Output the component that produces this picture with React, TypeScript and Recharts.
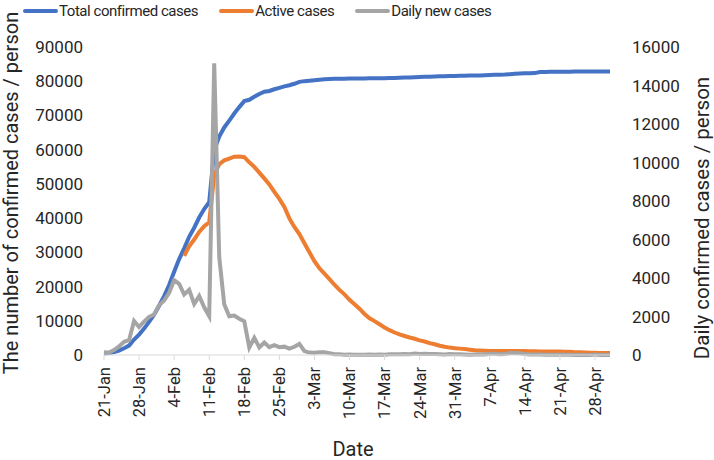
import { Legend, Line, LineChart, XAxis, YAxis } from "recharts";

// Categories: daily from 21-Jan to 1-May
const monthSpans: [string, number, number][] = [
  ["Jan", 21, 31],
  ["Feb", 1, 29],
  ["Mar", 1, 31],
  ["Apr", 1, 30],
  ["May", 1, 1],
];
const dates = monthSpans.flatMap(([m, from, to]) =>
  Array.from({ length: to - from + 1 }, (_, i) => `${from + i}-${m}`)
);

// Total confirmed cases (left axis)
const totalCases = [
  440, 571, 830, 1287, 1975, 2744, 4515, 5974, 7711, 9692, 11791,
  14380, 17205, 20438, 24324, 28018, 31161, 34546, 37198, 40171, 42638, 44653, 59804, 63851, 66492,
  68500, 70548, 72436, 74185, 74576, 75465, 76288, 76936, 77150, 77658, 78064, 78497, 78824, 79251, 79824,
  80026, 80151, 80270, 80409, 80552, 80651, 80695, 80735, 80754, 80778, 80793, 80813, 80824, 80844, 80860,
  80881, 80894, 80928, 80967, 81008, 81054, 81093, 81171, 81218, 81285, 81340, 81394, 81439, 81470, 81518, 81554,
  81589, 81620, 81639, 81669, 81708, 81740, 81802, 81865, 81907, 81953, 82052, 82160, 82249, 82295, 82341,
  82367, 82692, 82719, 82735, 82747, 82788, 82798, 82804, 82816, 82827, 82830, 82836, 82858, 82862, 82874,
  82875,
];

// Active cases (left axis), first shown on 6-Feb
const activeCases: (number | null)[] = [
  null, null, null, null, null, null, null, null, null, null, null,
  null, null, null, null, null, 28985, 31774, 33738, 35982, 37626, 38800, 52526, 55748, 56873,
  57416, 57934, 58016, 57805, 56303, 54965, 53284, 51606, 49824, 47672, 45604, 43258, 39919, 37414, 35329,
  32652, 30004, 27433, 25352, 23784, 22177, 20533, 19016, 17721, 16145, 14831, 13526, 11981, 10734, 9898,
  8976, 8056, 7263, 6569, 6013, 5549, 5120, 4735, 4287, 3947, 3460, 3128, 2691, 2396, 2161, 2004,
  1863, 1727, 1562, 1376, 1299, 1242, 1190, 1160, 1156, 1141, 1138, 1156, 1170, 1137, 1107,
  1081, 1058, 1027, 1001, 1004, 990, 959, 915, 838, 801, 723, 648, 647, 619, 617,
  612,
];

// Daily new cases (right axis)
const dailyNew = [
  149, 131, 259, 444, 688, 769, 1771, 1459, 1737, 1982, 2102,
  2590, 2829, 3235, 3887, 3694, 3143, 3385, 2652, 3062, 2478, 2015, 15152, 5090, 2641,
  2009, 2048, 1886, 1749, 394, 889, 397, 648, 409, 508, 406, 433, 327, 427, 573,
  202, 125, 119, 139, 143, 99, 44, 40, 19, 24, 15, 8, 11, 20, 16,
  21, 13, 34, 39, 41, 46, 39, 78, 47, 67, 55, 54, 45, 31, 48, 36,
  35, 31, 19, 30, 39, 32, 62, 63, 42, 46, 99, 108, 89, 46, 26,
  27, 26, 16, 12, 11, 30, 10, 10, 6, 11, 3, 6, 22, 4, 12,
  1,
];

const leftTicks = [0, 10000, 20000, 30000, 40000, 50000, 60000, 70000, 80000, 90000];
const rightTicks = [0, 2000, 4000, 6000, 8000, 10000, 12000, 14000, 16000];

const data = dates.map((date, i) => ({
  date,
  total: totalCases[i],
  active: activeCases[i],
  daily: dailyNew[i],
}));

const FONT = "Roboto, 'Liberation Sans', sans-serif";
const TEXT = "#262626";

const legendItems = [
  { label: "Total confirmed cases", color: "#4472C4" },
  { label: "Active cases", color: "#ED7D31" },
  { label: "Daily new cases", color: "#A5A5A5" },
];

function LegendRow() {
  return (
    <div
      style={{
        height: 47,
        display: "flex",
        alignItems: "flex-start",
        paddingLeft: 23,
        fontFamily: FONT,
        fontSize: 15,
        letterSpacing: -0.45,
        color: TEXT,
      }}
    >
      {legendItems.map((it) => (
        <div key={it.label} style={{ display: "flex", alignItems: "center", marginRight: 21, height: 21 }}>
          <span style={{ display: "inline-block", width: 35, height: 4, borderRadius: 2, background: it.color, marginRight: 1 }} />
          <span>{it.label}</span>
        </div>
      ))}
    </div>
  );
}

function DateTick(props: any) {
  const { x, y, payload } = props;
  return (
    <text
      x={x}
      y={y}
      transform={`rotate(-90, ${x}, ${y})`}
      textAnchor="end"
      dy="0.36em"
      fill={TEXT}
      fontSize={16.5}
      fontFamily={FONT}
    >
      {payload.value}
    </text>
  );
}

export default function App() {
  return (
    <div style={{ position: "absolute", left: 0, top: 0, background: "#fff" }}>
      <LineChart width={714} height={460} data={data} margin={{ top: 0, right: 0, bottom: 0, left: 0 }}>
        <Legend verticalAlign="top" align="left" content={() => <LegendRow />} />
        <XAxis
          dataKey="date"
          interval={6}
          height={105}
          stroke="#d9d9d9"
          tickSize={5}
          tickMargin={7}
          tick={<DateTick />}
          label={{ value: "Date", position: "insideBottom", offset: 4, fill: TEXT, fontSize: 20, fontFamily: FONT, dx: -4 }}
        />
        <YAxis
          yAxisId="left"
          width={104}
          domain={[0, 90000]}
          ticks={leftTicks}
          axisLine={false}
          tickLine={false}
          tickMargin={15}
          tick={{ fill: TEXT, fontSize: 17, fontFamily: FONT }}
          label={{
            value: "The number of confirmed cases / person",
            angle: -90,
            position: "insideLeft",
            fill: TEXT,
            fontSize: 20,
            fontFamily: FONT,
            dx: 6,
            dy: -8,
            style: { textAnchor: "middle" },
          }}
        />
        <YAxis
          yAxisId="right"
          orientation="right"
          width={104}
          domain={[0, 16000]}
          ticks={rightTicks}
          axisLine={false}
          tickLine={false}
          tickMargin={16}
          tick={{ fill: TEXT, fontSize: 17, fontFamily: FONT, textAnchor: "start" }}
          label={{
            value: "Daily confirmed cases / person",
            angle: -90,
            position: "insideRight",
            fill: TEXT,
            fontSize: 20.5,
            fontFamily: FONT,
            dx: -7,
            dy: 17,
            style: { textAnchor: "middle" },
          }}
        />
        <Line yAxisId="left" dataKey="total" stroke="#4472C4" strokeWidth={4} dot={false} isAnimationActive={false} />
        <Line yAxisId="left" dataKey="active" stroke="#ED7D31" strokeWidth={4} dot={false} isAnimationActive={false} />
        <Line yAxisId="right" dataKey="daily" stroke="#A5A5A5" strokeWidth={4} dot={false} isAnimationActive={false} />
      </LineChart>
    </div>
  );
}
